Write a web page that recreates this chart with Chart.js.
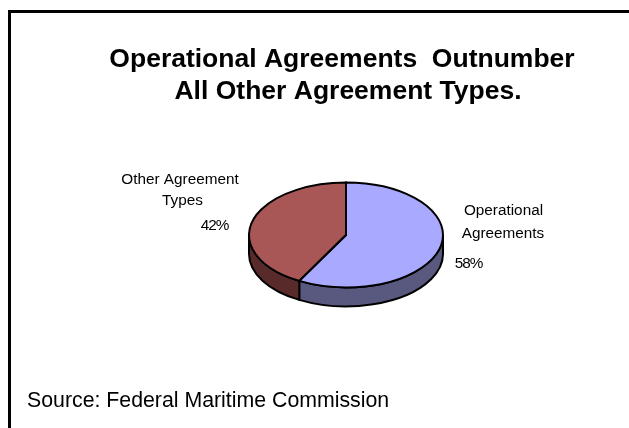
<!DOCTYPE html>
<html>
<head>
<meta charset="utf-8">
<title>Operational Agreements</title>
<script src="https://cdn.jsdelivr.net/npm/chart.js@4"></script>
<style>
    html, body { margin: 0; padding: 0; background: #ffffff; overflow: hidden; }
    canvas { display: block; }
</style>
</head>
<body>
<canvas id="pieChart" width="629" height="428"></canvas>
<script>
const categories = ['Operational Agreements', 'Other Agreement Types'];
const shares = [58, 42];
const topColors = ['#a9a9ff', '#a85656'];
const sideColors = ['#59597f', '#582a2a'];
const titleLines = ['Operational Agreements  Outnumber', 'All Other Agreement Types.'];
const sourceText = 'Source: Federal Maritime Commission';

const squash = 0.54;
const depth = 19;

// the pie is drawn flat by Chart.js, this tilts it and adds the side wall
const tiltPlugin = {
    id: 'tilt',
    beforeDatasetsDraw(chart) {
        const ctx = chart.ctx;
        const arcs = chart.getDatasetMeta(0).data;
        const cx = arcs[0].x, cy = arcs[0].y, r = arcs[0].outerRadius;
        arcs.forEach(function(arc, i) {
            const from = Math.max(arc.startAngle, 0);
            const to = Math.min(arc.endAngle, Math.PI);
            if (to <= from) return;
            ctx.save();
            ctx.translate(cx, cy);
            ctx.scale(1, squash);
            ctx.beginPath();
            ctx.arc(0, 0, r, from, to);
            ctx.arc(0, depth / squash, r, to, from, true);
            ctx.closePath();
            ctx.restore();
            ctx.fillStyle = sideColors[i];
            ctx.fill();
            ctx.lineWidth = 2;
            ctx.strokeStyle = '#000000';
            ctx.stroke();
        });
        ctx.save();
        ctx.translate(cx, cy);
        ctx.scale(1, squash);
        ctx.translate(-cx, -cy);
    },
    afterDatasetsDraw(chart) {
        const ctx = chart.ctx;
        ctx.restore();
        const arcs = chart.getDatasetMeta(0).data;
        const cx = arcs[0].x, cy = arcs[0].y, r = arcs[0].outerRadius;
        arcs.forEach(function(arc) {
            ctx.save();
            ctx.translate(cx, cy);
            ctx.scale(1, squash);
            ctx.beginPath();
            ctx.moveTo(0, 0);
            ctx.arc(0, 0, r, arc.startAngle, arc.endAngle);
            ctx.closePath();
            ctx.restore();
            ctx.lineWidth = 2;
            ctx.strokeStyle = '#000000';
            ctx.stroke();
        });
    }
};

// frame, heading, slice labels and source line
const textPlugin = {
    id: 'texts',
    afterDraw(chart) {
        const ctx = chart.ctx;
        ctx.save();
        ctx.fillStyle = '#000000';
        ctx.fillRect(8, 10, 621, 3);
        ctx.fillRect(8, 10, 3, 418);

        ctx.textBaseline = 'alphabetic';
        ctx.textAlign = 'center';
        ctx.font = 'bold 26.5px "Liberation Sans"';
        ctx.fillText(titleLines[0], 342, 67);
        ctx.fillText(titleLines[1], 348, 99);

        ctx.font = '15.3px "Liberation Sans"';
        ctx.fillText('Other Agreement', 180, 184);
        ctx.fillText('Types', 182.5, 205);
        ctx.fillText('Operational', 503.5, 215);
        ctx.fillText('Agreements', 503, 238);

        ctx.letterSpacing = '-1px';
        ctx.fillText(shares[1] + '%', 214.5, 230);
        ctx.fillText(shares[0] + '%', 468.5, 268);
        ctx.letterSpacing = '0px';

        ctx.textAlign = 'left';
        ctx.font = '21.3px "Liberation Sans"';
        ctx.fillText(sourceText, 27, 407);
        ctx.restore();
    }
};

new Chart(document.getElementById('pieChart').getContext('2d'), {
    type: 'pie',
    data: {
        labels: categories,
        datasets: [{
            data: shares,
            backgroundColor: topColors,
            borderWidth: 0,
            clip: false
        }]
    },
    options: {
        responsive: false,
        animation: false,
        layout: { padding: { left: 249, right: 186, top: 138, bottom: 96 } },
        plugins: {
            legend: { display: false },
            tooltip: { enabled: false }
        }
    },
    plugins: [tiltPlugin, textPlugin]
});
</script>
</body>
</html>
